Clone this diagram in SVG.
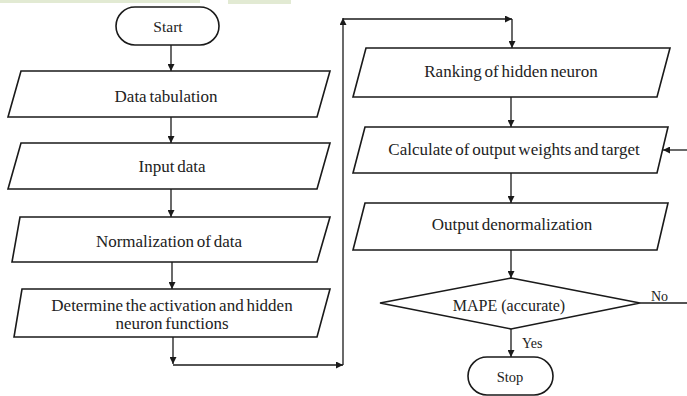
<svg xmlns="http://www.w3.org/2000/svg" width="687" height="396" viewBox="0 0 687 396">
<defs>
<style>
.box{fill:#fff;stroke:#1a1a1a;stroke-width:1.6}
.ln{fill:none;stroke:#1a1a1a;stroke-width:1.3}
.t{font-family:"Liberation Serif","Times New Roman",serif;font-size:17px;fill:#222;text-anchor:middle;word-spacing:-1.5px}
.s{font-family:"Liberation Serif","Times New Roman",serif;font-size:14px;fill:#222}
</style>
<marker id="ah" viewBox="0 0 10 10" refX="10" refY="5" markerWidth="8" markerHeight="7" markerUnits="userSpaceOnUse" orient="auto">
<path d="M0,0 L10,5 L0,10 Z" fill="#1a1a1a"/>
</marker>
</defs>
<rect x="0" y="0" width="687" height="396" fill="#fff"/>
<rect x="0" y="0" width="200" height="3" fill="#e2ead3"/>
<rect x="228" y="0" width="63" height="4" fill="#e2ead3"/>

<g id="connectors">
<line class="ln" x1="171" y1="45" x2="171" y2="71" marker-end="url(#ah)"/>
<line class="ln" x1="171" y1="117" x2="171" y2="143" marker-end="url(#ah)"/>
<line class="ln" x1="171" y1="189" x2="171" y2="217" marker-end="url(#ah)"/>
<line class="ln" x1="172" y1="262" x2="172" y2="289" marker-end="url(#ah)"/>
<line class="ln" x1="173" y1="337" x2="173" y2="364" marker-end="url(#ah)"/>
<line class="ln" x1="173" y1="365" x2="343" y2="365" marker-end="url(#ah)"/>
<line class="ln" x1="343" y1="365" x2="343" y2="18" marker-end="url(#ah)"/>
<line class="ln" x1="343" y1="19" x2="512" y2="19" marker-end="url(#ah)"/>
<line class="ln" x1="512" y1="19" x2="512" y2="48" marker-end="url(#ah)"/>
<line class="ln" x1="511" y1="97" x2="511" y2="127" marker-end="url(#ah)"/>
<line class="ln" x1="511" y1="173" x2="511" y2="203" marker-end="url(#ah)"/>
<line class="ln" x1="511" y1="250" x2="511" y2="278" marker-end="url(#ah)"/>
<line class="ln" x1="511" y1="329" x2="511" y2="357" marker-end="url(#ah)"/>
<line class="ln" x1="640" y1="303" x2="687" y2="303"/>
<line class="ln" x1="687" y1="150" x2="663" y2="150" marker-end="url(#ah)"/>
<text class="s" x="522" y="348">Yes</text>
<text class="s" x="651" y="301">No</text>
</g>

<g id="start">
<rect class="box" x="116" y="7" width="103" height="38" rx="19" ry="19"/>
<text class="t" x="168" y="32" style="font-size:15.5px">Start</text>
</g>
<g id="data-tabulation">
<polygon class="box" points="21,71 330,71 317,117 8,117"/>
<text class="t" x="166" y="102">Data tabulation</text>
</g>
<g id="input-data">
<polygon class="box" points="21,143 330,143 317,189 8,189"/>
<text class="t" x="172" y="172">Input data</text>
</g>
<g id="normalization">
<polygon class="box" points="20,217 330,217 317,262 12,262"/>
<text class="t" x="169" y="247">Normalization of data</text>
</g>
<g id="determine">
<polygon class="box" points="22,289 330,289 317,337 14,337"/>
<text class="t" x="172" y="311">Determine the activation and hidden</text>
<text class="t" x="172" y="329">neuron functions</text>
</g>
<g id="ranking">
<polygon class="box" points="366,48 670,48 657,97 353,97"/>
<text class="t" x="511" y="77">Ranking of hidden neuron</text>
</g>
<g id="calculate">
<polygon class="box" points="365,127 668,127 657,173 353,173"/>
<text class="t" x="514" y="155">Calculate of output weights and target</text>
</g>
<g id="output-denorm">
<polygon class="box" points="365,203 668,203 657,250 353,250"/>
<text class="t" x="512" y="230">Output denormalization</text>
</g>
<g id="mape">
<polygon class="box" points="511,278 640,303 511,329 380,303"/>
<text class="t" x="509" y="311" style="font-size:16px;word-spacing:0">MAPE (accurate)</text>
</g>
<g id="stop">
<rect class="box" x="468" y="357" width="85" height="38" rx="19" ry="19"/>
<text class="t" x="510" y="382" style="font-size:14.5px">Stop</text>
</g>
</svg>
